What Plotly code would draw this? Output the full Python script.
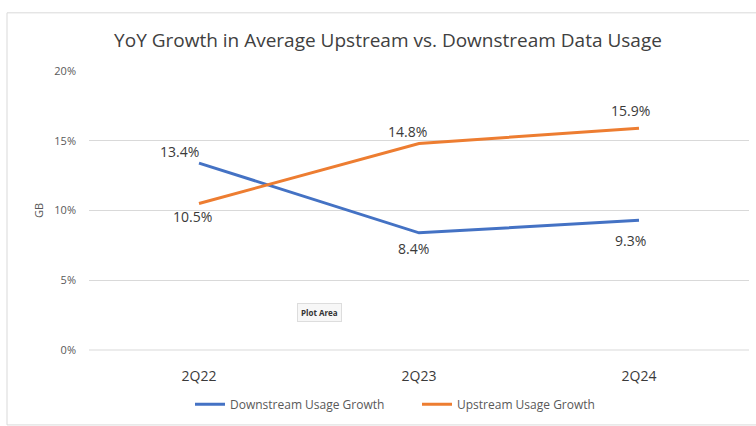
import plotly.graph_objects as go

quarters = ["2Q22", "2Q23", "2Q24"]
downstream = [0.134, 0.084, 0.093]
upstream = [0.105, 0.148, 0.159]
y_ticks = [0, 0.05, 0.10, 0.15, 0.20]
y_tick_text = ["0%", "5%", "10%", "15%", "20%"]

# label offsets in pixels (xshift, yshift)
down_shift = [(-20, 12), (-6, -16), (-9, -20)]
up_shift = [(-7, -13), (-12, 12), (-9, 18)]

W, H = 756, 426
L, R, T, B = 89, 7, 71, 72
pw, ph = W - L - R, H - T - B

def px_x(x):
    return (x - L) / pw

def px_y(y):
    return (H - B - y) / ph

fig = go.Figure()
fig.add_trace(go.Scatter(
    x=quarters, y=downstream, mode="lines", name="Downstream Usage Growth",
    line=dict(color="#4472C4", width=3),
))
fig.add_trace(go.Scatter(
    x=quarters, y=upstream, mode="lines", name="Upstream Usage Growth",
    line=dict(color="#ED7D31", width=3),
))

annotations = []
for vals, shifts in ((downstream, down_shift), (upstream, up_shift)):
    for q, v, (dx, dy) in zip(quarters, vals, shifts):
        annotations.append(dict(
            x=q, y=v, xref="x", yref="y", text=f"{v*100:.1f}%", showarrow=False,
            xshift=dx, yshift=dy,
            font=dict(size=14, color="#3a3a3a", family="Open Sans"),
        ))

annotations.append(dict(
    text="<b>Plot Area</b>", xref="paper", yref="paper", x=px_x(297), y=px_y(326),
    showarrow=False, font=dict(size=8, color="#333333"),
    bgcolor="#f7f7f7", bordercolor="#dddddd", borderwidth=1, borderpad=3,
))

fig.update_layout(
    width=W, height=H,
    margin=dict(l=L, r=R, t=T, b=B),
    paper_bgcolor="white", plot_bgcolor="white",
    font=dict(family="Open Sans", color="#595959"),
    title=dict(text="YoY Growth in Average Upstream vs. Downstream Data Usage",
               x=388 / W, xref="container", xanchor="center", y=1 - 40 / H, yanchor="middle",
               font=dict(size=19, color="#404040", family="Open Sans")),
    showlegend=True,
    legend=dict(orientation="h", x=px_x(190), xanchor="left", y=px_y(409), yanchor="middle",
                font=dict(size=12, color="#595959"), tracegroupgap=0,
                entrywidth=182, entrywidthmode="pixels"),
    xaxis=dict(range=[-0.5, 2.5], showgrid=False, showline=False, zeroline=False, ticks="",
               tickfont=dict(size=14, color="#3a3a3a"), ticklabelstandoff=16),
    yaxis=dict(range=[0, 0.2], tickvals=y_ticks, ticktext=y_tick_text,
               showgrid=True, gridcolor="#d9d9d9", gridwidth=1, zeroline=False,
               showline=False, ticks="", tickfont=dict(size=11, color="#595959"),
               ticklabelstandoff=12,
               title=dict(text="GB", font=dict(size=11, color="#595959"), standoff=8)),
    shapes=[
        dict(type="rect", xref="paper", yref="paper",
             x0=px_x(7), x1=px_x(760), y0=px_y(430), y1=px_y(12),
             line=dict(color="#d9d9d9", width=1), layer="below"),
        dict(type="line", xref="paper", yref="paper",
             x0=0, x1=1, y0=0, y1=0,
             line=dict(color="#d9d9d9", width=1), layer="below"),
    ],
    annotations=annotations,
)

fig.write_html("out.html")
